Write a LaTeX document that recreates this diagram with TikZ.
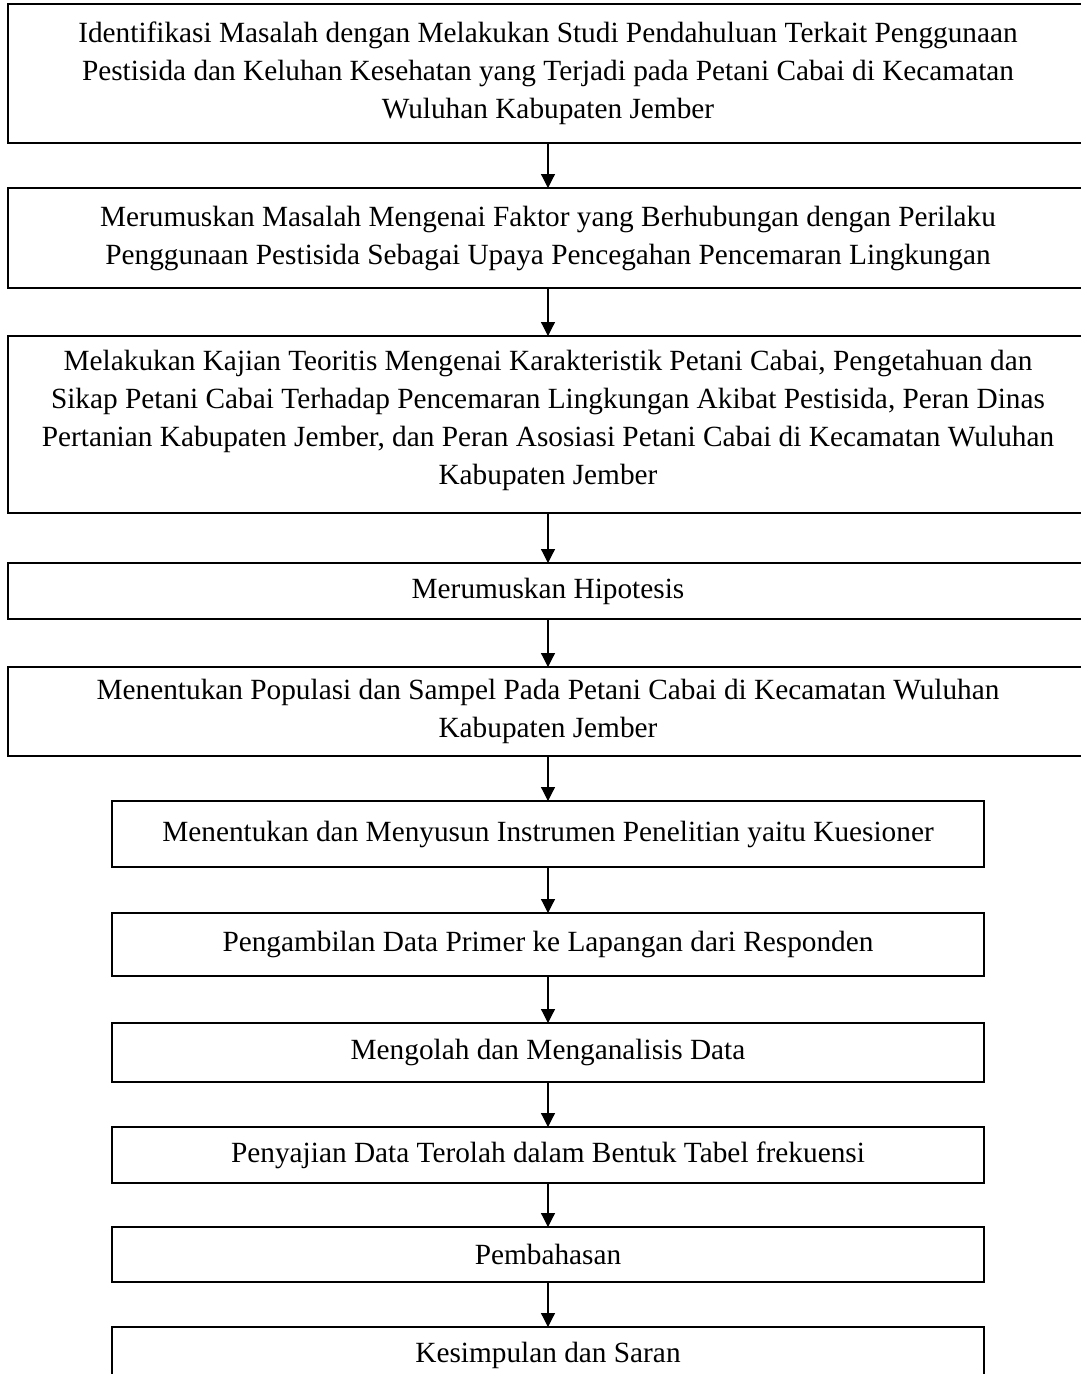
\documentclass[tikz,border=0pt]{standalone}
\usepackage{fontspec}
\setmainfont{Liberation Serif}
\usetikzlibrary{arrows.meta}

\begin{document}
\begin{tikzpicture}[x=1pt, y=1pt, >={Triangle[length=14pt, width=14pt]},
     every node/.style = 
     {outer sep = 0pt, inner sep = 0pt, draw=black, line width=1.8pt,
     align=center, font=\fontsize{29.3}{38}\selectfont},
     lebar/.style = {minimum width=1080pt},
     sempit/.style = {minimum width=872pt},
     panah/.style = {->, line width=1.2pt}]
        \useasboundingbox (0,0) rectangle (1081,-1374);
        \node [lebar, anchor=north, minimum height=139pt] 
            at (548,-4) (identifikasi) {Identifikasi Masalah dengan Melakukan Studi Pendahuluan Terkait Penggunaan\\
            Pestisida dan Keluhan Kesehatan yang Terjadi pada Petani Cabai di Kecamatan\\
            Wuluhan Kabupaten Jember};
        \node [lebar, anchor=north, minimum height=100pt, yshift=-45pt] 
            at (identifikasi.south) (rumusan) {Merumuskan Masalah Mengenai Faktor yang Berhubungan dengan Perilaku\\
            Penggunaan Pestisida Sebagai Upaya Pencegahan Pencemaran Lingkungan};
        \node [lebar, anchor=north, minimum height=177pt, yshift=-48pt] 
            at (rumusan.south) (kajian) {Melakukan Kajian Teoritis Mengenai Karakteristik Petani Cabai, Pengetahuan dan\\
            Sikap Petani Cabai Terhadap Pencemaran Lingkungan Akibat Pestisida, Peran Dinas\\
            Pertanian Kabupaten Jember, dan Peran Asosiasi Petani Cabai di Kecamatan Wuluhan\\
            Kabupaten Jember\rule[-14pt]{0pt}{0pt}};
        \node [lebar, anchor=north, minimum height=56pt, yshift=-50pt] 
            at (kajian.south) (hipotesis) {Merumuskan Hipotesis};
        \node [lebar, anchor=north, minimum height=89pt, yshift=-48pt] 
            at (hipotesis.south) (populasi) {Menentukan Populasi dan Sampel Pada Petani Cabai di Kecamatan Wuluhan\\
            Kabupaten Jember};
        \node [sempit, anchor=north, minimum height=66pt, yshift=-45pt] 
            at (populasi.south) (instrumen) {Menentukan dan Menyusun Instrumen Penelitian yaitu Kuesioner};
        \node [sempit, anchor=north, minimum height=63pt, yshift=-46pt] 
            at (instrumen.south) (pengambilan) {Pengambilan Data Primer ke Lapangan dari Responden};
        \node [sempit, anchor=north, minimum height=59pt, yshift=-47pt] 
            at (pengambilan.south) (analisis) {Mengolah dan Menganalisis Data};
        \node [sempit, anchor=north, minimum height=56pt, yshift=-45pt] 
            at (analisis.south) (penyajian) {Penyajian Data Terolah dalam Bentuk Tabel frekuensi};
        \node [sempit, anchor=north, minimum height=55pt, yshift=-44pt] 
            at (penyajian.south) (pembahasan) {Pembahasan};
        \node [sempit, anchor=north, minimum height=56pt, yshift=-45pt] 
            at (pembahasan.south) (kesimpulan) {Kesimpulan dan Saran};
        \draw [panah] (identifikasi) -- (rumusan);
        \draw [panah] (rumusan) -- (kajian);
        \draw [panah] (kajian) -- (hipotesis);
        \draw [panah] (hipotesis) -- (populasi);
        \draw [panah] (populasi) -- (instrumen);
        \draw [panah] (instrumen) -- (pengambilan);
        \draw [panah] (pengambilan) -- (analisis);
        \draw [panah] (analisis) -- (penyajian);
        \draw [panah] (penyajian) -- (pembahasan);
        \draw [panah] (pembahasan) -- (kesimpulan);
\end{tikzpicture}
\end{document}
